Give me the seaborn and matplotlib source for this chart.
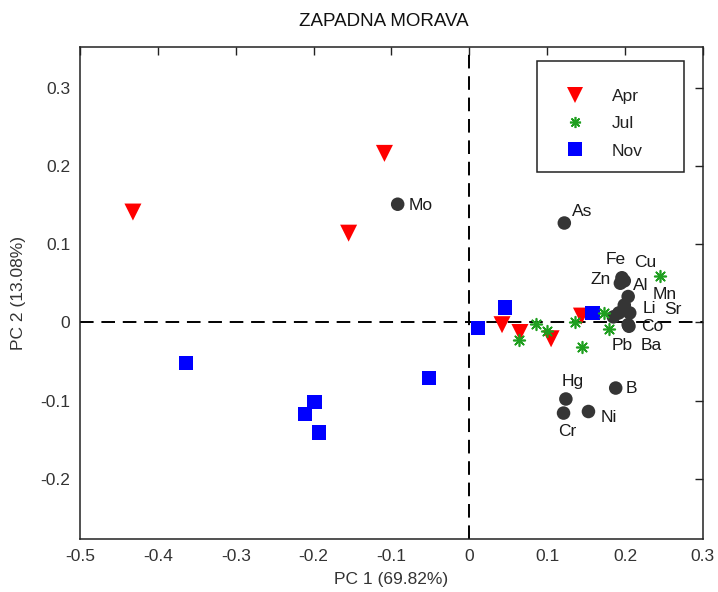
import matplotlib
matplotlib.use("Agg")
import matplotlib.pyplot as plt
import seaborn as sns
import pandas as pd
from matplotlib.lines import Line2D
from matplotlib.patches import Rectangle

# ---- data ----
apr_pc1 = [-0.432, -0.109, -0.155, 0.042, 0.065, 0.105, 0.144]
apr_pc2 = [0.141, 0.216, 0.114, -0.003, -0.013, -0.021, 0.008]

jul_pc1 = [0.086, 0.100, 0.064, 0.136, 0.145, 0.173, 0.180, 0.245]
jul_pc2 = [-0.002, -0.011, -0.022, 0.000, -0.031, 0.012, -0.008, 0.059]

nov_pc1 = [-0.364, -0.052, -0.199, -0.211, -0.193, 0.011, 0.046, 0.158]
nov_pc2 = [-0.052, -0.071, -0.102, -0.117, -0.141, -0.007, 0.019, 0.012]

elements = ["As", "Fe", "Cu", "Zn", "Al", "Mn", "Li", "Sr", "Co", "Pb", "Ba",
            "Hg", "B", "Ni", "Cr", "Mo"]
var_pc1 = [0.122, 0.196, 0.199, 0.194, 0.204, 0.199, 0.206, 0.192, 0.205, 0.185,
           0.204, 0.124, 0.188, 0.153, 0.121, -0.092]
var_pc2 = [0.127, 0.057, 0.053, 0.050, 0.033, 0.022, 0.012, 0.012, -0.005, 0.007,
           -0.003, -0.098, -0.084, -0.114, -0.116, 0.151]
label_x = [0.145, 0.188, 0.2265, 0.169, 0.220, 0.251, 0.231, 0.261, 0.235, 0.1965,
           0.234, 0.1325, 0.208, 0.179, 0.126, -0.062]
label_y = [0.142, 0.080, 0.076, 0.055, 0.047, 0.036, 0.018, 0.016, -0.005, -0.030,
           -0.030, -0.075, -0.084, -0.1215, -0.140, 0.149]

x_ticks = [-0.5, -0.4, -0.3, -0.2, -0.1, 0, 0.1, 0.2, 0.3]
x_ticklabels = ["-0.5", "-0.4", "-0.3", "-0.2", "-0.1", "0", "0.1", "0.2", "0.3"]
y_ticks = [-0.2, -0.1, 0, 0.1, 0.2, 0.3]
y_ticklabels = ["-0.2", "-0.1", "0", "0.1", "0.2", "0.3"]

title = "ZAPADNA MORAVA"
x_label = "PC 1 (69.82%)"
y_label = "PC 2 (13.08%)"

# ---- style ----
sns.set_style("white")
plt.rcParams["font.family"] = ["Liberation Sans", "DejaVu Sans"]

fig = plt.figure(figsize=(7.18, 5.92), dpi=100)
ax = fig.add_axes([0.1114, 0.0895, 0.8676, 0.8311])

# zero lines
ax.axhline(0, color="black", lw=1.4, ls=(0, (7, 4)), zorder=1)
ax.axvline(0, color="black", lw=1.4, ls=(0, (7, 4)), zorder=1)

# variables (loadings)
dfv = pd.DataFrame({"pc1": var_pc1, "pc2": var_pc2, "el": elements})
sns.scatterplot(data=dfv, x="pc1", y="pc2", ax=ax, color="#353535", s=95,
                marker="o", edgecolor="none", legend=False, zorder=3)
for t, lx, ly in zip(elements, label_x, label_y):
    ax.text(lx, ly, t, ha="center", va="center", fontsize=12.5, color="#1a1a1a", zorder=5)

# scores
dfa = pd.DataFrame({"pc1": apr_pc1, "pc2": apr_pc2})
dfj = pd.DataFrame({"pc1": jul_pc1, "pc2": jul_pc2})
dfn = pd.DataFrame({"pc1": nov_pc1, "pc2": nov_pc2})
sns.scatterplot(data=dfa, x="pc1", y="pc2", ax=ax, color="#ff0000", marker="v",
                s=150, edgecolor="none", legend=False, zorder=4)
sns.scatterplot(data=dfn, x="pc1", y="pc2", ax=ax, color="#0000ff", marker="s",
                s=110, edgecolor="none", legend=False, zorder=4)
ax.scatter(dfj["pc1"], dfj["pc2"], marker=(8, 2, 0), s=70, color="#1f9f1f",
           linewidths=1.2, zorder=4)

ax.set_xlim(-0.5, 0.3)
ax.set_ylim(-0.277, 0.352)
ax.set_xticks(x_ticks)
ax.set_xticklabels(x_ticklabels)
ax.set_yticks(y_ticks)
ax.set_yticklabels(y_ticklabels)
ax.tick_params(direction="in", length=6, width=1, top=True, right=True,
               labelsize=12.5, pad=7, colors="#222222")
ax.tick_params(labelcolor="#333333")
for sp in ax.spines.values():
    sp.set_color("#222222")
    sp.set_linewidth(1.1)

ax.set_xlabel(x_label, fontsize=12.5, color="#333333", labelpad=6)
ax.set_ylabel(y_label, fontsize=12.5, color="#333333", labelpad=10)
fig.text(0.535, 0.963, title, ha="center", va="center", fontsize=13.5, color="#111111")

# legend box
ax.add_patch(Rectangle((0.7335, 0.746), 0.236, 0.2256, transform=ax.transAxes,
                       facecolor="white", edgecolor="#222222", lw=1.1, zorder=6))
handles = [
    Line2D([], [], ls="none", marker="v", color="#ff0000", markersize=12, markeredgewidth=0),
    Line2D([], [], ls="none", marker=(8, 2, 0), color="#1f9f1f", markersize=8, markeredgewidth=1.2),
    Line2D([], [], ls="none", marker="s", color="#0000ff", markersize=10, markeredgewidth=0),
]
leg = ax.legend(handles, ["Apr", "Jul", "Nov"], loc="upper left",
                bbox_to_anchor=(0.7335, 0.9715), fontsize=12.5, frameon=False,
                borderpad=1.6, labelspacing=0.7, handlelength=1.17,
                handletextpad=1.54, borderaxespad=0)
leg.set_zorder(7)
for t in leg.get_texts():
    t.set_color("#222222")

fig.savefig("out.png", dpi=100)
